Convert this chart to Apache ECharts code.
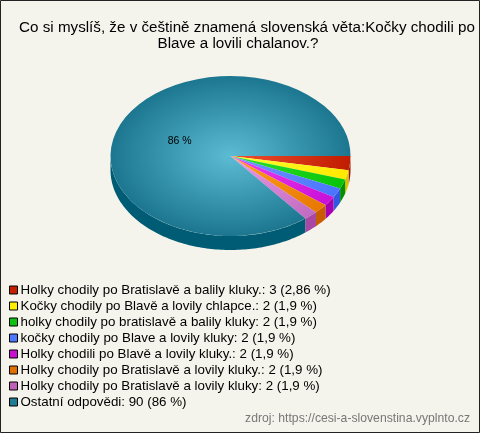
<!DOCTYPE html>
<html><head><meta charset="utf-8">
<style>html,body{margin:0;padding:0;background:#f5f4ec}#c{width:480px;height:433px}</style>
<script src="https://cdn.jsdelivr.net/npm/echarts@6/dist/echarts.min.js"></script>
</head><body><div id="c"></div>
<script>
var titleLine1 = 'Co si myslíš, že v češtině znamená slovenská věta:Kočky chodili po';
var titleLine2 = 'Blave a lovili chalanov.?';
var sourceText = 'zdroj: https://cesi-a-slovenstina.vyplnto.cz';
var categories = [
 'Holky chodily po Bratislavě a balily kluky.: 3 (2,86 %)',
 'Kočky chodily po Blavě a lovily chlapce.: 2 (1,9 %)',
 'holky chodily po bratislavě a balily kluky: 2 (1,9 %)',
 'kočky chodily po Blave a lovily kluky: 2 (1,9 %)',
 'Holky chodili po Blavě a lovily kluky.: 2 (1,9 %)',
 'Holky chodily po Bratislavě a lovily kluky.: 2 (1,9 %)',
 'Holky chodily po Bratislavě a lovily kluky: 2 (1,9 %)',
 'Ostatní odpovědi: 90 (86 %)'
];
var values = [3,2,2,2,2,2,2,90];
var legendColors = ['#c42000','#ffee00','#10c010','#4a78ff','#c810d0','#e07000','#c060b8','#1f7c94'];
var innerColors  = ['#f05030','#ffff30','#30e030','#7098ff','#f040f0','#ffa020','#f098e8','#5cbcd4'];
var outerColors  = ['#c01c00','#ffe800','#08c408','#4a74ff','#c810d8','#e87800','#c06cc0','#1c7690'];
var sideColors   = ['#981400','#d8c400','#009000','#3058e0','#a800b0','#c85c00','#a848a4','#005c74'];

var total = values.reduce(function(a,b){return a+b;},0);
var CX=230.5, CY=156, R=120, SY=2/3, DEPTH=14;
function startOf(i){var s=0;for(var k=0;k<i;k++)s+=values[k];return s/total*Math.PI*2;}
function makeRender(idx){
  return function(params, api){
    var a0=startOf(idx), a1=a0+api.value(0)/total*Math.PI*2, children=[];
    var e0=Math.min(a1,Math.PI);
    if(a0<Math.PI){
      var top=[],bot=[],n=Math.max(4,Math.ceil((e0-a0)/0.02));
      for(var i=0;i<=n;i++){
        var t=a0+(e0-a0)*i/n, x=CX+R*Math.cos(t), y=CY+R*SY*Math.sin(t);
        top.push([x,y]);bot.unshift([x,y+DEPTH]);
      }
      children.push({type:'polygon',z2:1,shape:{points:top.concat(bot)},style:{fill:sideColors[idx]}});
    }
    children.push({type:'sector',z2:2,x:CX,y:CY,scaleY:SY,
      shape:{cx:0,cy:0,r:R,r0:0,startAngle:a0,endAngle:a1,clockwise:true},
      style:{fill:{type:'radial',x:0,y:0,r:R,global:true,colorStops:[{offset:0,color:innerColors[idx]},{offset:1,color:outerColors[idx]}]}}});
    if(idx===values.length-1){
      var m=(a0+a1)/2;
      children.push({type:'text',z2:3,x:CX+1+R*0.48*Math.cos(m),y:CY+2+R*SY*0.48*Math.sin(m),
        style:{text:Math.round(api.value(0)/total*100)+' %',fill:'#000',font:'10.5px "Liberation Sans"',align:'center',verticalAlign:'middle'}});
    }
    return {type:'group',children:children};
  };
}
var titleStyle={fontFamily:'Liberation Sans',fontSize:15.2,fontWeight:'normal',color:'#000',lineHeight:16};
var chart=echarts.init(document.getElementById('c'),null,{renderer:'canvas'});
chart.setOption({
  animation:false,
  backgroundColor:'#f5f4ec',
  graphic:[{type:'rect',silent:true,z:100,shape:{x:0.5,y:0.5,width:479,height:432},style:{fill:'none',stroke:'#222',lineWidth:1}}],
  title:[
    {text:titleLine1,left:247,top:20,textAlign:'center',padding:0,textStyle:titleStyle},
    {text:titleLine2,left:238,top:36,textAlign:'center',padding:0,textStyle:titleStyle},
    {text:sourceText,right:10,top:412,padding:0,textStyle:{fontFamily:'Liberation Sans',fontSize:12.2,fontWeight:'normal',color:'#777',lineHeight:14}}
  ],
  legend:{orient:'vertical',left:9,top:283,padding:0,itemGap:2,itemWidth:8,itemHeight:8,icon:'rect',
    selectedMode:false,data:categories,
    itemStyle:{borderColor:'#000',borderWidth:1},
    textStyle:{fontFamily:'Liberation Sans',fontSize:13.33,color:'#000',padding:[0,0,0,-2],lineHeight:14}},
  series:categories.map(function(name,i){
    return {type:'custom',name:name,coordinateSystem:'none',silent:true,
      itemStyle:{color:legendColors[i]},data:[[values[i]]],renderItem:makeRender(i)};
  })
});
</script></body></html>
